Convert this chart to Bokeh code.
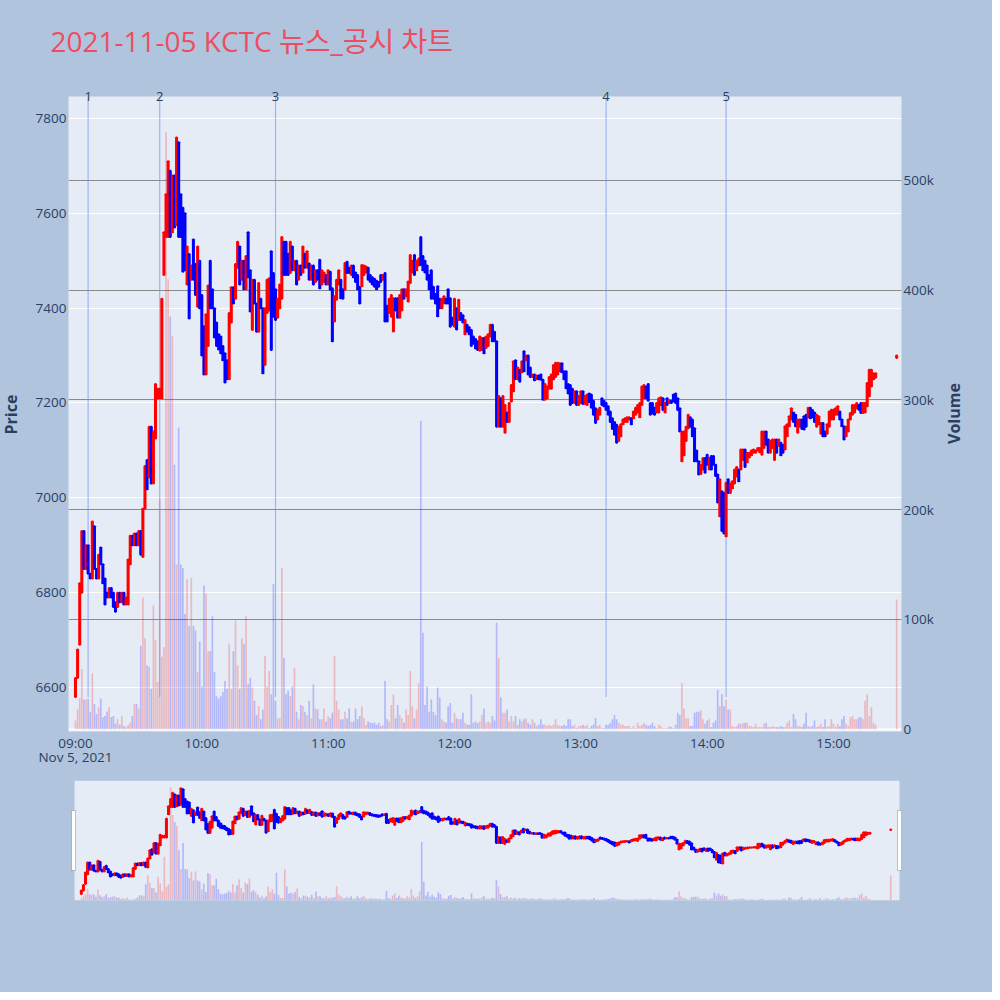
import math
import pandas as pd
from bokeh.plotting import figure
from bokeh.models import (ColumnDataSource, Range1d, LinearAxis, FixedTicker, Grid,
                          BoxAnnotation)
from bokeh.layouts import column
from bokeh.embed import file_html
from bokeh.resources import INLINE
from bokeh.core.properties import value

# ---------------- data ----------------
title_text = "2021-11-05 KCTC 뉴스_공시 차트"
price_axis_title = "Price"
volume_axis_title = "Volume"
session_date = "2021-11-05"
session_start = "09:00"
minute_offsets = list(range(0, 381)) + [390]

open_prices = [
    6580, 6620, 6690, 6800, 6930, 6850, 6900, 6840, 6830, 6940,
    6850, 6830, 6895, 6860, 6830, 6800, 6790, 6810, 6800, 6780,
    6770, 6800, 6780, 6800, 6775, 6775, 6860, 6920, 6900, 6925,
    6900, 6930, 6875, 6977, 7080, 7043, 7150, 7030, 7125, 7210,
    7210, 7210, 7470, 7550, 7550, 7690, 7560, 7680, 7575, 7750,
    7640, 7612, 7600, 7450, 7514, 7460, 7545, 7493, 7403, 7500,
    7428, 7362, 7260, 7320, 7500, 7440, 7400, 7370, 7345, 7340,
    7320, 7305, 7290, 7250, 7370, 7444, 7420, 7485, 7530, 7460,
    7500, 7440, 7560, 7480, 7354, 7460, 7410, 7350, 7420, 7400,
    7280, 7390, 7395, 7520, 7474, 7440, 7380, 7400, 7420, 7540,
    7540, 7515, 7474, 7530, 7480, 7500, 7460, 7490, 7475, 7515,
    7485, 7494, 7460, 7490, 7455, 7480, 7502, 7450, 7455, 7470,
    7450, 7477, 7442, 7372, 7418, 7450, 7460, 7440, 7439, 7498,
    7485, 7470, 7490, 7475, 7470, 7445, 7446, 7470, 7475, 7485,
    7470, 7465, 7462, 7458, 7455, 7470, 7460, 7474, 7405, 7390,
    7382, 7351, 7421, 7421, 7380, 7395, 7440, 7425, 7414, 7453,
    7475, 7512, 7480, 7490, 7550, 7510, 7500, 7490, 7470, 7480,
    7445, 7430, 7446, 7420, 7400, 7410, 7420, 7440, 7421, 7380,
    7361, 7400, 7375, 7390, 7385, 7345, 7365, 7360, 7354, 7340,
    7335, 7330, 7310, 7312, 7337, 7316, 7320, 7340, 7365, 7350,
    7330, 7150, 7210, 7150, 7137, 7180, 7160, 7203, 7225, 7290,
    7250, 7270, 7265, 7309, 7290, 7300, 7275, 7255, 7260, 7250,
    7258, 7260, 7249, 7207, 7210, 7230, 7230, 7250, 7255, 7260,
    7267, 7284, 7267, 7267, 7240, 7238, 7230, 7200, 7225, 7196,
    7200, 7225, 7198, 7196, 7220, 7218, 7205, 7189, 7165, 7175,
    7210, 7205, 7200, 7193, 7182, 7168, 7160, 7154, 7120, 7130,
    7155, 7160, 7160, 7165, 7168, 7168, 7175, 7180, 7170, 7196,
    7210, 7235, 7240, 7200, 7200, 7190, 7180, 7180, 7195, 7210,
    7180, 7210, 7200, 7205, 7218, 7220, 7210, 7189, 7077, 7090,
    7120, 7147, 7170, 7165, 7147, 7100, 7077, 7050, 7060, 7084,
    7091, 7060, 7088, 7088, 7070, 7049, 6961, 7014, 7010, 6919,
    7039, 7010, 7020, 7030, 7045, 7060, 7060, 7080, 7102, 7075,
    7085, 7090, 7095, 7095, 7100, 7096, 7091, 7105, 7140, 7123,
    7095, 7105, 7080, 7123, 7110, 7116, 7112, 7102, 7130, 7151,
    7165, 7180, 7175, 7137, 7150, 7165, 7172, 7175, 7170, 7190,
    7185, 7180, 7150, 7155, 7135, 7158, 7140, 7135, 7150, 7165,
    7165, 7175, 7175, 7182, 7165, 7151, 7130, 7140, 7165, 7175,
    7180, 7189, 7196, 7200, 7179, 7180, 7193, 7214, 7235, 7250,
    7253, 7295,
]

close_prices = [
    6620, 6680, 6820, 6930, 6850, 6900, 6840, 6830, 6950, 6850,
    6830, 6880, 6860, 6820, 6775, 6790, 6810, 6790, 6770, 6760,
    6800, 6780, 6800, 6775, 6790, 6870, 6920, 6900, 6925, 6900,
    6930, 6880, 6977, 7067, 7018, 7150, 7030, 7140, 7240, 7230,
    7230, 7420, 7560, 7640, 7710, 7550, 7680, 7570, 7760, 7550,
    7550, 7477, 7480, 7530, 7378, 7490, 7460, 7428, 7530, 7400,
    7300, 7260, 7387, 7448, 7400, 7400, 7338, 7320, 7313, 7305,
    7290, 7243, 7250, 7390, 7444, 7410, 7493, 7540, 7450, 7500,
    7440, 7510, 7465, 7393, 7460, 7410, 7350, 7453, 7400, 7263,
    7400, 7460, 7463, 7312, 7382, 7375, 7420, 7450, 7550, 7470,
    7470, 7470, 7540, 7480, 7500, 7450, 7490, 7470, 7530, 7485,
    7520, 7460, 7490, 7450, 7480, 7460, 7442, 7480, 7475, 7450,
    7480, 7439, 7330, 7425, 7460, 7480, 7421, 7420, 7495, 7474,
    7474, 7490, 7465, 7455, 7440, 7410, 7491, 7490, 7488, 7460,
    7455, 7450, 7445, 7440, 7445, 7455, 7470, 7372, 7372, 7420,
    7428, 7421, 7395, 7380, 7428, 7440, 7420, 7440, 7456, 7512,
    7500, 7470, 7500, 7505, 7491, 7480, 7475, 7460, 7440, 7420,
    7420, 7410, 7383, 7400, 7420, 7425, 7410, 7410, 7361, 7365,
    7420, 7355, 7418, 7375, 7370, 7375, 7350, 7345, 7320, 7325,
    7315, 7312, 7340, 7337, 7305, 7340, 7345, 7365, 7330, 7330,
    7150, 7215, 7150, 7215, 7196, 7160, 7200, 7238, 7288, 7250,
    7275, 7245, 7288, 7267, 7300, 7260, 7255, 7260, 7248, 7258,
    7250, 7249, 7207, 7240, 7235, 7255, 7260, 7280, 7285, 7285,
    7284, 7265, 7250, 7231, 7220, 7196, 7200, 7225, 7196, 7215,
    7225, 7198, 7215, 7218, 7202, 7190, 7175, 7158, 7185, 7190,
    7196, 7193, 7185, 7175, 7160, 7145, 7133, 7116, 7150, 7155,
    7165, 7168, 7170, 7170, 7155, 7182, 7190, 7196, 7200, 7235,
    7238, 7210, 7205, 7175, 7178, 7175, 7200, 7210, 7212, 7185,
    7200, 7196, 7206, 7200, 7203, 7200, 7185, 7140, 7140, 7140,
    7150, 7175, 7150, 7130, 7077, 7077, 7049, 7070, 7084, 7053,
    7070, 7084, 7060, 7070, 7046, 6990, 7039, 6930, 6925, 7032,
    7010, 7030, 7035, 7060, 7065, 7035, 7102, 7102, 7065, 7095,
    7095, 7100, 7102, 7100, 7105, 7105, 7140, 7140, 7112, 7095,
    7120, 7123, 7123, 7095, 7123, 7090, 7095, 7151, 7155, 7172,
    7189, 7160, 7151, 7165, 7165, 7145, 7144, 7150, 7190, 7168,
    7170, 7160, 7175, 7172, 7158, 7130, 7130, 7155, 7182, 7186,
    7186, 7189, 7193, 7165, 7151, 7123, 7150, 7165, 7179, 7196,
    7196, 7200, 7186, 7179, 7200, 7200, 7242, 7270, 7270, 7263,
    7263, 7300,
]

volume_k = [
    8, 18, 28, 55, 27, 27, 28, 16, 51, 23,
    14, 20, 28, 11, 12, 16, 20, 11, 12, 5,
    9, 4, 12, 3, 2, 4, 6, 12, 23, 23,
    19, 76, 120, 83, 58, 57, 37, 113, 81, 43,
    209, 66, 75, 544, 410, 376, 358, 241, 150, 275,
    150, 147, 105, 137, 94, 138, 94, 90, 52, 80,
    39, 131, 124, 71, 71, 103, 52, 30, 28, 30,
    34, 44, 37, 78, 37, 71, 99, 58, 37, 83,
    78, 103, 41, 47, 38, 26, 13, 21, 9, 18,
    67, 39, 53, 32, 132, 26, 10, 10, 147, 65,
    32, 35, 30, 39, 56, 16, 9, 22, 21, 16,
    13, 26, 10, 41, 19, 18, 9, 9, 19, 7,
    12, 10, 15, 67, 26, 18, 9, 9, 16, 10,
    19, 7, 7, 19, 9, 12, 21, 10, 4, 7,
    6, 6, 6, 4, 6, 3, 4, 44, 9, 7,
    22, 32, 10, 22, 13, 10, 6, 18, 13, 53,
    21, 10, 18, 42, 281, 88, 22, 39, 16, 27,
    16, 13, 38, 29, 9, 7, 6, 21, 24, 6,
    15, 10, 9, 9, 15, 6, 4, 4, 32, 6,
    7, 6, 7, 13, 19, 6, 7, 6, 12, 8,
    97, 65, 29, 15, 15, 18, 7, 12, 7, 12,
    4, 9, 7, 9, 10, 6, 4, 9, 6, 3,
    4, 9, 4, 4, 3, 4, 3, 4, 9, 4,
    3, 3, 4, 3, 9, 9, 3, 4, 1, 3,
    3, 4, 3, 4, 1, 3, 4, 10, 3, 4,
    1, 1, 4, 4, 6, 9, 13, 9, 6, 4,
    4, 3, 3, 3, 1, 3, 1, 6, 3, 4,
    6, 4, 3, 4, 6, 3, 1, 4, 3, 1,
    1, 1, 3, 2, 1, 4, 15, 13, 42, 19,
    10, 10, 3, 3, 15, 16, 16, 17, 9, 5,
    8, 9, 2, 6, 8, 36, 21, 32, 21, 27,
    18, 18, 3, 2, 3, 5, 5, 6, 6, 6,
    3, 3, 2, 5, 2, 2, 2, 5, 6, 2,
    2, 3, 2, 2, 2, 3, 2, 2, 6, 8,
    2, 14, 9, 3, 3, 2, 5, 15, 3, 2,
    3, 8, 2, 3, 5, 2, 9, 2, 3, 9,
    5, 2, 5, 3, 9, 12, 5, 3, 11, 12,
    9, 9, 11, 11, 9, 26, 32, 12, 20, 6,
    4, 118,
]

news_minutes = [6, 40, 95, 252, 309]
news_labels = ["1", "2", "3", "4", "5"]
price_ticks = [6600, 6800, 7000, 7200, 7400, 7600, 7800]
volume_ticks_k = [0, 100, 200, 300, 400, 500]
volume_tick_labels = ["0", "100k", "200k", "300k", "400k", "500k"]
hour_labels = ["09:00", "10:00", "11:00", "12:00", "13:00", "14:00", "15:00"]
date_label = "Nov 5, 2021"

assert len(open_prices) == len(close_prices) == len(volume_k) == len(minute_offsets)

# ---------------- derived ----------------
EPOCH = pd.Timestamp("1970-01-01")
t0 = pd.Timestamp(f"{session_date} {session_start}")


def to_ms(ts):
    return float((ts - EPOCH) / pd.Timedelta(milliseconds=1))


x_ms = [to_ms(t0 + pd.Timedelta(minutes=m)) for m in minute_offsets]
inc = [c >= o for o, c in zip(open_prices, close_prices)]
UP, DOWN = "#ff0000", "#0000ff"
src = ColumnDataSource(dict(
    x=x_ms,
    top=[max(o, c) for o, c in zip(open_prices, close_prices)],
    bottom=[min(o, c) for o, c in zip(open_prices, close_prices)],
    color=[UP if i else DOWN for i in inc],
    vol=volume_k,
))

x_start = to_ms(t0 - pd.Timedelta(minutes=3.32))
x_end = to_ms(t0 + pd.Timedelta(minutes=392.3))
y_start, y_end = 6507.2, 7846.4
v_start, v_end = -2.05, 576.5

news_x = [to_ms(t0 + pd.Timedelta(minutes=m)) for m in news_minutes]
low_all = min(min(open_prices), min(close_prices))
news_src = ColumnDataSource(dict(x=news_x, y0=[low_all] * len(news_x),
                                 y1=[y_end] * len(news_x), label=news_labels))

hour_ms = [to_ms(t0 + pd.Timedelta(hours=h)) for h in range(len(hour_labels))]
hour_overrides = {t: lab for t, lab in zip(hour_ms, hour_labels)}
hour_overrides[hour_ms[0]] = hour_labels[0] + "\n" + date_label

PAPER = "#b0c4de"
PLOTBG = "#e5ecf6"
TXT = "#2a3f5f"
FONT = "Open Sans"
CANDLE_W = 30000
VOL_W = 48000
W = 992
# frame geometry (px)
FL, FR, FT, FB = 68, 901, 96, 731
MS_PER_PX = (x_end - x_start) / (FR - FL)
Y_PER_PX = (y_end - y_start) / (FB - FT)


def px_x(px):
    """canvas px -> main x data (for placing titles outside the frame)"""
    return x_start + (px - FL) * MS_PER_PX


def px_y(py):
    return y_end - (py - FT) * Y_PER_PX


def draw_series(fig):
    fig.vbar(x="x", width=VOL_W, top="vol", bottom=0, source=src,
             fill_color="color", fill_alpha=0.22, line_color=None,
             y_range_name="vol")


def draw_candles(fig):
    fig.vbar(x="x", width=CANDLE_W, top="top", bottom="bottom", source=src,
             fill_color="color", line_color="color", line_width=2)


# ---------------- main figure ----------------
p = figure(width=W, height=780, x_axis_type="datetime",
           x_range=Range1d(x_start, x_end), y_range=Range1d(y_start, y_end),
           output_backend="svg", toolbar_location=None,
           min_border_left=FL, min_border_right=W - FR, min_border_top=FT,
           min_border_bottom=780 - FB)
p.background_fill_color = PLOTBG
p.border_fill_color = PAPER
p.outline_line_color = None
p.extra_y_ranges = {"vol": Range1d(v_start, v_end)}

p.xgrid.visible = False
p.ygrid.ticker = FixedTicker(ticks=price_ticks)
p.ygrid.grid_line_color = "white"
p.ygrid.grid_line_width = 1

vgrid = Grid(dimension=1, ticker=FixedTicker(ticks=volume_ticks_k[1:]), y_range_name="vol",
             grid_line_color="#8a8a8a", grid_line_width=1)
p.add_layout(vgrid)
vzero = Grid(dimension=1, ticker=FixedTicker(ticks=volume_ticks_k[:1]), y_range_name="vol",
             grid_line_color="white", grid_line_width=2)
p.add_layout(vzero)

draw_series(p)
p.segment(x0="x", y0="y0", x1="x", y1="y1", source=news_src,
          line_color="#6f8ef0", line_alpha=0.6, line_width=1.2)
draw_candles(p)
p.text(x="x", y="y1", text="label", source=news_src, level="overlay",
       text_align="center", text_baseline="middle",
       text_font=value(FONT), text_font_size=value("13px"), text_color=TXT)

# title and axis titles (drawn unclipped on the overlay level)
p.text(x=[px_x(50)], y=[px_y(40)], text=[title_text], level="overlay",
       text_align="left", text_baseline="middle",
       text_font=value("Open Sans, Noto Sans CJK KR"), text_font_size=value("28px"),
       text_color="#ee4d5f")
p.text(x=[px_x(10)], y=[px_y(414)], text=[price_axis_title], level="overlay",
       angle=math.pi / 2, text_align="center", text_baseline="middle",
       text_font=value(FONT), text_font_size=value("16px"), text_font_style="bold",
       text_color=TXT)
p.text(x=[px_x(953)], y=[px_y(413)], text=[volume_axis_title], level="overlay",
       angle=math.pi / 2, text_align="center", text_baseline="middle",
       text_font=value(FONT), text_font_size=value("16px"), text_font_style="bold",
       text_color=TXT)

# axes
yax = p.yaxis[0]
yax.ticker = FixedTicker(ticks=price_ticks)
xax = p.xaxis[0]
xax.ticker = FixedTicker(ticks=hour_ms)
xax.major_label_overrides = hour_overrides
xax.major_label_standoff = 2
xax.major_label_text_line_height = 0.82

vax = LinearAxis(y_range_name="vol", ticker=FixedTicker(ticks=volume_ticks_k),
                 major_label_overrides={t: l for t, l in zip(volume_ticks_k, volume_tick_labels)})
p.add_layout(vax, "right")

for ax in (yax, xax, vax):
    ax.axis_line_color = None
    ax.major_tick_line_color = None
    ax.minor_tick_line_color = None
    ax.major_tick_out = 0
    ax.major_tick_in = 0
    ax.minor_tick_out = 0
    ax.minor_tick_in = 0
    ax.major_label_text_font = FONT
    ax.major_label_text_font_size = "13.5px"
    ax.major_label_text_color = TXT
yax.major_label_standoff = 2
vax.major_label_standoff = 2

# ---------------- range slider ----------------
# plotly's slider track spans x 72..897 px; the bokeh frame is 6px wider each side
SL_L, SL_R, PAD = 72, 897, 6
ms_per_px = (x_end - x_start) / (SL_R - SL_L)
s = figure(width=W, height=W - 780,
           x_range=Range1d(x_start - PAD * ms_per_px, x_end + PAD * ms_per_px),
           y_range=Range1d(y_start, y_end),
           x_axis_location=None, y_axis_location=None,
           output_backend="svg", toolbar_location=None,
           min_border_left=SL_L - PAD, min_border_right=W - SL_R - PAD, min_border_top=0,
           min_border_bottom=W - 780 - 120)
s.background_fill_color = PAPER
s.border_fill_color = PAPER
s.outline_line_color = None
s.extra_y_ranges = {"vol": Range1d(v_start, v_end)}
s.xgrid.visible = False
s.ygrid.visible = False
s.add_layout(BoxAnnotation(left=PAD, right=PAD + SL_R - SL_L, bottom=0, top=120,
                           left_units="screen", right_units="screen",
                           bottom_units="screen", top_units="screen",
                           fill_color=PLOTBG, fill_alpha=1.0, line_color=None,
                           level="underlay"))
draw_series(s)
draw_candles(s)
for l_, r_ in ((PAD - 3, PAD + 1), (PAD + SL_R - SL_L - 2, PAD + SL_R - SL_L + 2)):
    s.add_layout(BoxAnnotation(left=l_, right=r_, bottom=30, top=90,
                               left_units="screen", right_units="screen",
                               bottom_units="screen", top_units="screen",
                               fill_color="white", fill_alpha=1.0,
                               line_color="#444444", line_width=1))

layout = column(p, s)
layout.styles = {"background-color": PAPER}
open("out.html", "w").write(file_html(layout, INLINE))
